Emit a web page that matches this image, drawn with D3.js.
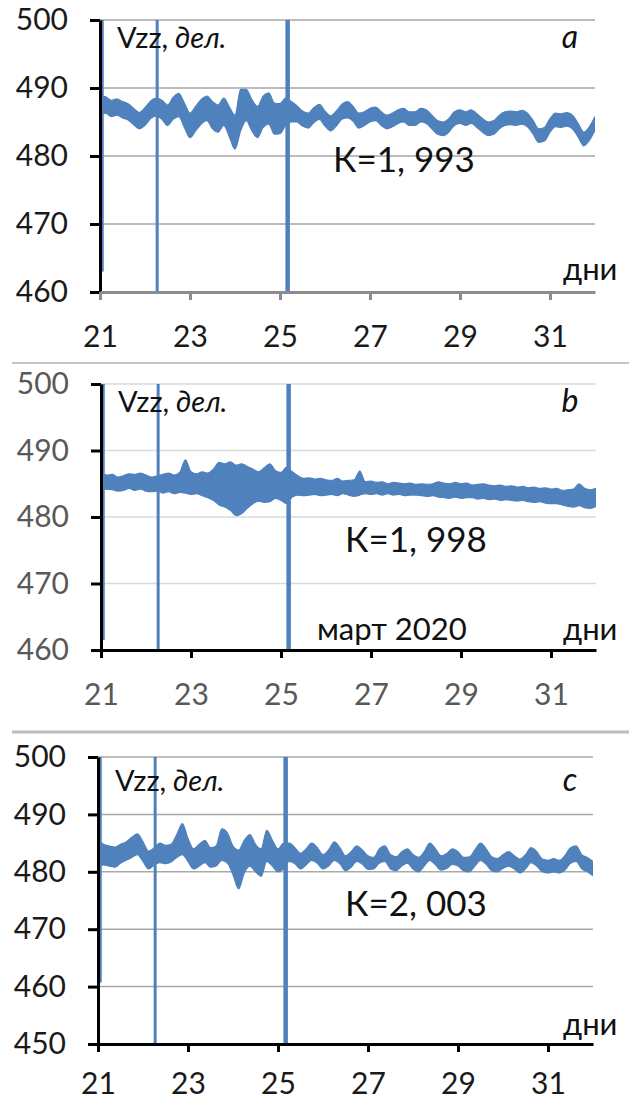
<!DOCTYPE html>
<html><head><meta charset="utf-8">
<script src="https://cdn.jsdelivr.net/npm/d3@7"></script>
<style>body{margin:0;background:#fff}svg{display:block}</style>
</head><body>
<svg id="chart" width="629" height="1102"></svg>
<script>
// ---------- data ----------
const xTicks = [21, 23, 25, 27, 29, 31];
const yTicksAB = [460, 470, 480, 490, 500];
const yTicksC = [450, 460, 470, 480, 490, 500];
const dayStart = 21, dayEnd = 32;
// sample times every 3 hours (0.125 day)
const days = d3.range(89).map(i => dayStart + i / 8);

const aHi = [488.9,488.7,488.2,488.4,488.0,487.7,487.0,486.4,487.1,488.1,488.5,488.2,487.5,488.6,489.2,487.8,
486.3,487.3,488.3,488.8,488.0,487.5,488.5,487.2,486.0,489.8,489.8,488.3,487.3,488.8,489.3,487.8,
487.7,488.5,488.0,487.4,486.6,486.3,487.1,487.6,486.6,485.9,486.6,487.6,488.0,487.3,486.3,486.5,
487.0,487.2,486.5,486.0,486.3,486.8,487.0,486.5,486.5,487.0,486.8,486.0,485.2,485.0,485.5,486.5,
486.8,486.5,486.8,486.2,485.5,485.0,485.2,486.0,486.5,486.6,486.5,486.7,486.3,485.2,484.0,484.2,
485.5,486.3,486.2,486.4,486.0,484.8,483.5,484.3,485.8];
const aLo = [486.1,486.3,485.8,486.0,485.6,485.3,484.6,484.0,484.5,485.5,485.9,485.4,484.5,485.4,485.8,484.2,
482.7,483.7,484.7,485.2,484.0,483.5,484.5,482.8,481.0,483.7,485.2,483.7,482.7,484.2,484.7,483.2,
483.3,484.5,485.0,485.0,484.4,484.1,484.9,485.4,484.4,483.7,484.4,485.4,485.6,485.1,484.1,484.5,
485.0,485.2,484.5,484.0,484.3,484.8,485.0,484.5,484.5,485.0,484.8,484.0,483.2,483.0,483.5,484.5,
484.8,484.5,484.8,484.2,483.5,483.0,483.2,484.0,484.5,484.6,484.5,484.7,484.3,483.2,482.0,482.2,
483.5,484.3,484.2,484.4,484.0,482.8,481.5,482.3,483.8];

const bHi = [486.6,486.3,486.4,486.0,486.2,486.5,486.4,486.6,486.3,486.0,486.2,486.4,486.6,486.3,486.7,488.6,
486.8,486.5,486.8,486.6,487.2,488.2,488.0,488.3,487.8,488.0,487.6,487.2,486.8,487.4,488.0,487.0,
486.7,487.5,486.8,486.2,485.8,485.9,485.7,485.8,485.6,485.5,485.8,485.4,485.5,485.6,486.9,485.3,
485.4,485.2,485.3,485.0,485.2,485.1,485.0,485.1,484.9,485.0,484.9,485.0,485.3,485.1,485.0,485.2,
485.0,485.1,484.8,484.9,485.0,484.8,484.7,484.8,484.6,484.7,484.5,484.6,484.4,484.5,484.3,484.4,
484.2,484.3,484.0,484.1,484.2,485.0,484.3,484.1,484.3];
const bLo = [484.0,484.2,484.1,483.9,484.0,484.3,484.0,484.2,483.9,483.8,483.9,483.6,483.8,483.5,483.7,483.6,
483.4,483.5,483.2,482.9,482.5,481.8,481.5,481.0,480.2,480.5,481.3,482.0,482.4,482.2,482.3,482.8,
482.5,482.0,483.0,483.3,483.2,483.3,483.4,483.2,483.3,483.4,483.2,483.5,483.3,483.1,483.3,483.5,
483.4,483.5,483.3,483.5,483.3,483.4,483.2,483.3,483.3,483.2,483.1,483.2,483.0,482.9,482.8,483.0,
482.8,482.9,482.9,482.7,482.8,482.6,482.7,482.5,482.6,482.5,482.4,482.5,482.3,482.2,482.3,482.1,
482.0,482.0,481.8,481.6,481.5,481.7,481.4,481.3,481.6];

const cHi = [485.5,484.8,484.5,484.3,484.8,485.2,486.0,486.6,485.2,483.6,484.2,485.0,484.6,484.8,486.5,488.4,
485.8,484.0,484.8,485.5,484.2,484.5,487.5,486.8,484.5,483.8,485.5,486.5,484.8,484.0,487.2,485.5,
484.0,485.0,485.0,484.2,483.2,484.0,485.0,484.2,483.0,483.8,485.2,484.2,482.8,483.5,484.5,483.8,
482.8,482.5,484.0,484.5,483.0,482.6,483.5,484.0,483.0,482.5,483.5,485.0,484.0,482.8,483.2,484.0,
483.5,482.5,482.6,483.8,485.0,484.0,482.6,482.3,483.0,483.5,482.8,482.2,483.0,484.2,483.5,482.2,
482.0,482.3,482.0,482.8,484.2,484.5,483.0,482.5,481.8];
const cLo = [481.0,481.2,481.0,480.8,481.5,482.0,482.5,483.0,481.8,480.5,481.2,481.6,481.4,481.7,482.5,483.0,
481.8,480.5,481.0,481.6,480.8,481.0,482.0,481.5,479.5,477.0,479.8,481.0,480.0,479.2,481.8,481.0,
480.0,480.5,481.8,481.4,480.5,481.2,482.0,481.5,480.5,481.0,482.0,481.4,480.2,480.8,481.8,481.3,
480.4,480.5,481.5,481.8,480.5,480.2,481.0,481.5,480.5,480.0,481.0,482.0,481.2,480.3,480.6,481.3,
481.0,480.2,480.0,481.0,482.0,481.3,480.2,480.0,480.6,481.0,480.5,479.8,480.5,481.6,481.0,480.0,
479.8,480.0,479.8,480.3,481.5,481.8,480.5,480.0,479.3];

// off-scale spikes (day, lower end; upper end clipped at the top)
const spikeDays = [21.05, 22.27, 25.17];
const aSpikeLo = [463, 460, 460];
const bSpikeLo = [461.5, 460, 460];
const cSpikeLo = [460.7, 450, 450];
const spikeTop = 500;

const kLabels = ["К=1, 993", "К=1, 998", "К=2, 003"];
const panelLetters = ["a", "b", "c"];
const unitLabel = "дни";
const monthLabel = "март 2020";

// ---------- layout ----------
const BLUE = "#4f81bd";
const FONT = "Lato, 'Open Sans', sans-serif";
const panels = [
  {left:100, top:20, bottom:292, domain:[460,500], ticks:yTicksAB, hi:aHi, lo:aLo, spikeLo:aSpikeLo,
   grid:"#a6a6a6", xAxis:"#8c8c8c", label:"#1a1a1a", kx:333, ky:172, vzz:48, unitY:280, month:false, pad:26},
  {left:101, top:384, bottom:650, domain:[460,500], ticks:yTicksAB, hi:bHi, lo:bLo, spikeLo:bSpikeLo,
   grid:"#dadada", xAxis:"#000", label:"#595959", kx:345, ky:552, vzz:412, unitY:640, month:true, pad:26},
  {left:98, top:757, bottom:1044, domain:[450,500], ticks:yTicksC, hi:cHi, lo:cLo, spikeLo:cSpikeLo,
   grid:"#a9a9a9", xAxis:"#000", label:"#1a1a1a", kx:345, ky:916, vzz:791, unitY:1035, month:false, pad:21}
];
const spikeWidths = [3, 3, 4.5];

const svg = d3.select("#chart");

// separators
svg.append("line").attr("x1",12).attr("x2",629).attr("y1",363).attr("y2",363)
  .attr("stroke","#c4c4c4").attr("stroke-width",2);
svg.append("line").attr("x1",12).attr("x2",629).attr("y1",732).attr("y2",732)
  .attr("stroke","#bcbcbc").attr("stroke-width",3);

panels.forEach((p, pi) => {
  const x = d3.scaleLinear().domain([dayStart, dayEnd]).range([p.left, p.left + 495]);
  const y = d3.scaleLinear().domain(p.domain).range([p.bottom, p.top]);
  const g = svg.append("g");

  const clipId = "clip" + pi;
  g.append("clipPath").attr("id", clipId).append("rect")
    .attr("x", p.left).attr("y", p.top).attr("width", 495).attr("height", p.bottom - p.top);

  // gridlines
  g.selectAll(".grid").data(p.ticks.filter(v => v !== p.domain[0])).join("line")
    .attr("x1", p.left).attr("x2", x(dayEnd))
    .attr("y1", d => y(d)).attr("y2", d => y(d))
    .attr("stroke", p.grid).attr("stroke-width", 1.5);

  // data band
  const pts = days.map((t, i) => ({t, hi: p.hi[i], lo: p.lo[i]}));
  const area = d3.area().x(d => x(d.t)).y0(d => y(d.lo)).y1(d => y(d.hi)).curve(d3.curveMonotoneX);
  const dg = g.append("g").attr("clip-path", `url(#${clipId})`);
  dg.append("path").datum(pts).attr("d", area)
    .attr("fill", BLUE).attr("stroke", BLUE).attr("stroke-width", 1.2).attr("stroke-linejoin","round");

  // spikes
  dg.selectAll(".spike").data(spikeDays.map((d, i) => ({d, lo: p.spikeLo[i], w: spikeWidths[i]}))).join("line")
    .attr("x1", s => x(s.d)).attr("x2", s => x(s.d))
    .attr("y1", s => y(s.lo)).attr("y2", y(spikeTop) - 2)
    .attr("stroke", BLUE).attr("stroke-width", s => s.w);

  // y axis
  const ya = g.append("g").attr("transform", `translate(${p.left},0)`)
    .call(d3.axisLeft(y).tickValues(p.ticks).tickFormat(d3.format("d")).tickSize(10).tickSizeOuter(0).tickPadding(22));
  ya.select(".domain").attr("stroke", "#000").attr("stroke-width", 3);
  ya.selectAll(".tick line").attr("stroke", "#000").attr("stroke-width", 3);
  ya.selectAll(".tick text").attr("fill", p.label).style("font-family", FONT).style("font-size", "30px");

  // x axis
  const xa = g.append("g").attr("transform", `translate(0,${p.bottom})`)
    .call(d3.axisBottom(x).tickValues(xTicks).tickFormat(d3.format("d")).tickSize(8).tickSizeOuter(0).tickPadding(p.pad));
  xa.select(".domain").attr("stroke", p.xAxis).attr("stroke-width", 3);
  xa.selectAll(".tick line").attr("stroke", p.xAxis).attr("stroke-width", 3);
  xa.selectAll(".tick text").attr("fill", p.label).style("font-family", FONT).style("font-size", "30px");

  // texts
  const vz = g.append("text").attr("x", p.left + 17).attr("y", p.vzz)
    .style("font-family", FONT).style("font-size", "29px").attr("fill", "#111");
  vz.append("tspan").text("Vzz,");
  vz.append("tspan").attr("font-style", "italic").text(" дел.");

  g.append("text").attr("x", 570).attr("y", p.vzz).attr("text-anchor", "middle")
    .style("font-family", FONT).style("font-size", "32px").attr("font-style", "italic").attr("fill", "#111")
    .text(panelLetters[pi]);

  g.append("text").attr("x", p.kx).attr("y", p.ky)
    .style("font-family", FONT).style("font-size", "35px").attr("fill", "#111")
    .text(kLabels[pi]);

  g.append("text").attr("x", 563).attr("y", p.unitY)
    .style("font-family", FONT).style("font-size", "31px").attr("fill", "#111")
    .text(unitLabel);

  if (p.month) {
    g.append("text").attr("x", 317).attr("y", p.unitY)
      .style("font-family", FONT).style("font-size", "31px").attr("fill", "#111")
      .text(monthLabel);
  }
});
</script>
</body></html>
